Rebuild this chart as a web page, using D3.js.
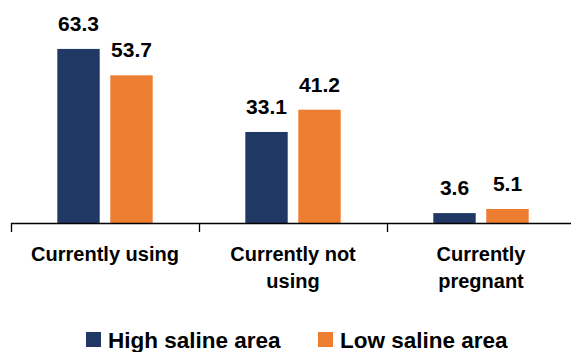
<!DOCTYPE html>
<html>
<head>
<meta charset="utf-8">
<script src="https://cdn.jsdelivr.net/npm/d3@7"></script>
<style>
  html, body { margin: 0; padding: 0; background: #fff; }
  svg { display: block; font-family: "Liberation Sans", Arial, sans-serif; font-weight: bold; }
</style>
</head>
<body>
<svg id="chart" width="571" height="352"></svg>
<script>
// Contraceptive status by area salinity (%)
const categories = [["Currently using"], ["Currently not", "using"], ["Currently", "pregnant"]];
const categoryKeys = ["Currently using", "Currently not using", "Currently pregnant"];
const seriesNames = ["High saline area", "Low saline area"];
const highSaline = [63.3, 33.1, 3.6];
const lowSaline = [53.7, 41.2, 5.1];
const colors = ["#203864", "#ED7D31"];

const svg = d3.select("#chart");
const baseY = 223;

const x = d3.scaleBand().domain(categoryKeys).range([11, 575]).padding(0);
const x1 = d3.scaleBand().domain(seriesNames).range([0, x.bandwidth()])
  .paddingInner(0.2).paddingOuter(0.874);
const y = d3.scaleLinear().domain([0, 70]).range([baseY, baseY - 70 * 2.75]);

const rows = categoryKeys.map((k, i) => ({ key: k, values: [highSaline[i], lowSaline[i]] }));

const groups = svg.selectAll("g.grp").data(rows).join("g")
  .attr("class", "grp")
  .attr("transform", d => `translate(${x(d.key)},0)`);

groups.selectAll("rect").data(d => d.values.map((v, j) => ({ s: seriesNames[j], v, j })))
  .join("rect")
  .attr("x", d => x1(d.s))
  .attr("width", x1.bandwidth())
  .attr("y", d => y(d.v))
  .attr("height", d => baseY - y(d.v))
  .attr("fill", d => colors[d.j]);

groups.selectAll("text.val").data(d => d.values.map((v, j) => ({ s: seriesNames[j], v })))
  .join("text")
  .attr("class", "val")
  .attr("x", d => x1(d.s) + x1.bandwidth() / 2)
  .attr("y", d => y(d.v) - 18)
  .attr("text-anchor", "middle")
  .attr("font-size", 21)
  .attr("fill", "#000")
  .text(d => d.v.toFixed(1));

// category axis
const axisG = svg.append("g");
axisG.append("line")
  .attr("x1", x.range()[0]).attr("x2", 571)
  .attr("y1", baseY + 0.5).attr("y2", baseY + 0.5)
  .attr("stroke", "#000").attr("stroke-width", 1.3);
axisG.selectAll("line.tick").data(categoryKeys).join("line")
  .attr("class", "tick")
  .attr("x1", d => Math.round(x(d)) + 0.5).attr("x2", d => Math.round(x(d)) + 0.5)
  .attr("y1", baseY).attr("y2", baseY + 9)
  .attr("stroke", "#000").attr("stroke-width", 1.3);

categories.forEach((lines, i) => {
  const cx = x(categoryKeys[i]) + x.bandwidth() / 2;
  const t = svg.append("text")
    .attr("text-anchor", "middle")
    .attr("font-size", 20)
    .attr("fill", "#000");
  lines.forEach((ln, k) => {
    t.append("tspan").attr("x", cx).attr("y", 261 + k * 27).text(ln);
  });
});

// legend
const legendItems = [{ name: seriesNames[0], x: 86 }, { name: seriesNames[1], x: 318 }];
const lg = svg.selectAll("g.lg").data(legendItems).join("g")
  .attr("class", "lg")
  .attr("transform", d => `translate(${d.x},332)`);
lg.append("rect").attr("width", 15).attr("height", 15).attr("fill", (d, i) => colors[i]);
lg.append("text").attr("x", 22).attr("y", 15.5)
  .attr("font-size", 22.5).attr("fill", "#000")
  .text(d => d.name);
</script>
</body>
</html>
